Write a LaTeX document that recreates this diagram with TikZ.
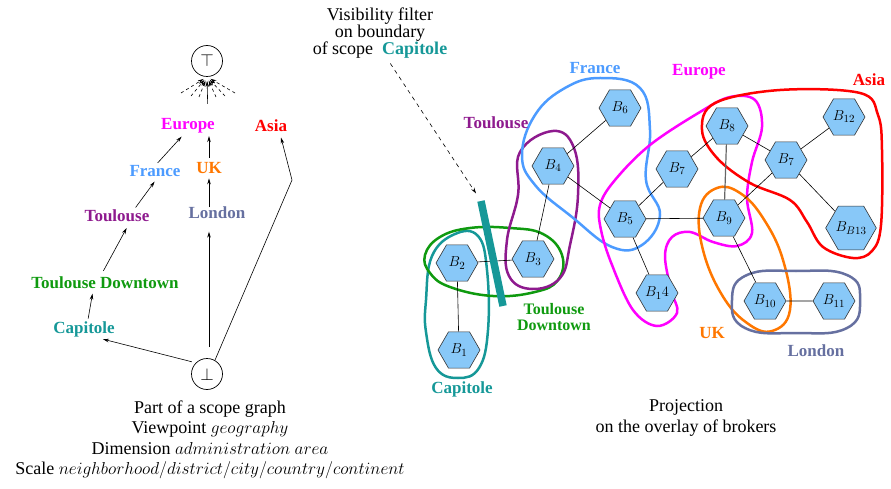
\documentclass[tikz,border=0pt]{standalone}
\usepackage{fontspec}
\setmainfont{Liberation Serif}
\usetikzlibrary{arrows.meta,shapes.geometric,backgrounds}
\definecolor{cMag}{HTML}{FF00FF}
\definecolor{cRed}{HTML}{FF0000}
\definecolor{cBlue}{HTML}{4C9BFF}
\definecolor{cOrange}{HTML}{FF7700}
\definecolor{cPurple}{HTML}{8E1A8E}
\definecolor{cSlate}{HTML}{6670A0}
\definecolor{cGreen}{HTML}{0F9A0F}
\definecolor{cTeal}{HTML}{169898}
\definecolor{cHex}{HTML}{88C8F8}
\begin{document}
\begin{tikzpicture}[x=1pt,y=-1pt,
 lbl/.style={font=\bfseries\fontsize{17}{17}\selectfont, inner sep=1.5pt, align=center},
 txt/.style={font=\fontsize{18}{20.5}\selectfont, align=center, inner sep=0pt},
 arr/.style={-{Stealth[length=6pt,width=3.5pt]}, line width=0.6pt},
 hexn/.style={regular polygon, regular polygon sides=6, minimum size=42pt, inner sep=0pt, draw=black!80, fill=cHex, line width=0.6pt, font=\fontsize{15}{15}\selectfont},
 blob/.style={line width=2.5pt},
 edgeln/.style={line width=0.6pt},
 circ/.style={circle, draw, minimum size=31pt, inner sep=0pt, line width=0.7pt, font=\fontsize{16}{16}\selectfont}]
\useasboundingbox (0,0) rectangle (891,489);

% ---------------- left: scope graph ----------------
\node[circ] (top) at (207,61) {$\top$};
\node[circ] (bot) at (207,374) {$\bot$};
\node[lbl,text=cMag] (eurL) at (188,126) {Europe};
\node[lbl,text=cRed] (asiaL) at (271,126) {Asia};
\node[lbl,text=cBlue] (frL) at (155,171) {France};
\node[lbl,text=cOrange] (ukL) at (209,168) {UK};
\node[lbl,text=cPurple] (tlL) at (117,216) {Toulouse};
\node[lbl,text=cSlate] (lonL) at (217,213) {London};
\node[lbl,text=cGreen] (tdL) at (105,283) {Toulouse Downtown};
\node[lbl,text=cTeal] (capL) at (84,329) {Capitole};

\draw[arr,shorten <=1pt,shorten >=3pt] ([xshift=4pt]capL.north) -- ([xshift=-12pt]tdL.south);
\draw[arr,shorten <=5pt,shorten >=5pt] ([xshift=-4pt]tdL.north) -- ([xshift=12pt]tlL.south);
\draw[arr,shorten <=1pt,shorten >=4pt] ([xshift=18pt]tlL.north) -- ([xshift=2pt]frL.south);
\draw[arr,shorten <=1pt,shorten >=2pt] ([xshift=2pt]frL.north) -- ([xshift=-5pt]eurL.south);
\draw[arr,shorten <=-2pt,shorten >=3pt] ([xshift=-8pt]lonL.north) -- (ukL.south);
\draw[arr,shorten <=3pt,shorten >=1pt] (ukL.north) -- ([xshift=21pt]eurL.south);
\draw[arr,shorten <=13pt,shorten >=4pt] ([xshift=20pt]eurL.north) -- (top.south);
\draw[arr,shorten <=11pt,shorten >=11pt] ([xshift=2pt]bot.north) -- ([xshift=-8pt]lonL.south);
\draw[arr,shorten <=4pt,shorten >=3pt] (bot.north west) -- ([xshift=16pt]capL.south);
\coordinate (asiaBend) at (292,180);
\draw[arr,shorten >=4pt] (bot.60) -- (asiaBend) -- ([xshift=9pt]asiaL.south);
% dashed fan of other arrows into top
\foreach \px/\py in {181/93,191/96,199/97,216/97,225/96,235/93}{
  \coordinate (fanpt) at (\px,\py);
  \draw[arr,dash pattern=on 3pt off 3pt,shorten >=4pt] (fanpt) -- (top.south);
}

\node[txt] (capt1) at (210,440) {Part of a scope graph\\Viewpoint $geography$\\Dimension $administration\ area$\\Scale $neighborhood/district/city/country/continent$};

% ---------------- visibility filter ----------------
\node[txt,font=\fontsize{18}{17}\selectfont] (vis) at (380,33) {Visibility filter\\on boundary\\of scope \ {\bfseries\color{cTeal}Capitole}};
\coordinate (barA) at (481,201);
\coordinate (barB) at (503,306);
\draw[line width=7.5pt,cTeal] (barA) -- (barB);
\draw[arr,dash pattern=on 4pt off 4pt,shorten <=6pt,shorten >=9pt] ([xshift=7pt]vis.south) -- (barA);

% ---------------- right: brokers ----------------
\node[hexn] (b1) at (459,350) {$B_1$};
\node[hexn] (b2) at (457,263) {$B_2$};
\node[hexn] (b3) at (533,259) {$B_3$};
\node[hexn] (b4) at (553,166) {$B_4$};
\node[hexn] (b5) at (625,219) {$B_5$};
\node[hexn] (b6) at (620,108) {$B_6$};
\node[hexn] (b7a) at (677,169) {$B_7$};
\node[hexn] (b14) at (657,293) {$B_14$};
\node[hexn] (b8) at (727,126) {$B_8$};
\node[hexn] (b9) at (724,218) {$B_9$};
\node[hexn] (b7b) at (786,160) {$B_7$};
\node[hexn] (b12) at (844,117) {$B_{12}$};
\node[hexn] (b13) at (851,228) {$B_{B13}$};
\node[hexn] (b10) at (765,301) {$B_{10}$};
\node[hexn] (b11) at (834,301) {$B_{11}$};

\begin{scope}[on background layer]
  % scopes
  \draw[blob,cTeal] plot[smooth cycle,tension=0.7] coordinates {(426,300) (432,256) (455,234) (478,236) (487,270) (488,330) (479,368) (458,378) (436,368) (426,332)};
  \draw[blob,cGreen] plot[smooth cycle,tension=0.7] coordinates {(425,255) (440,237) (470,228) (510,228) (543,234) (562,255) (558,280) (535,292) (493,296) (450,287) (430,273)};
  \draw[blob,cPurple] plot[smooth cycle,tension=0.7] coordinates {(553,131) (574,148) (578,195) (570,245) (560,278) (532,289) (509,276) (507,240) (518,195) (520,152)};
  \draw[blob,cBlue] plot[smooth cycle,tension=0.7] coordinates {(600,78) (640,88) (650,130) (646,180) (660,215) (642,245) (612,247) (572,217) (535,185) (522,155) (535,115) (565,88)};
  \draw[blob,cMag] plot[smooth cycle,tension=0.6] coordinates {(600,205) (615,180) (650,145) (700,112) (730,97) (755,100) (762,127) (752,162) (747,198) (752,233) (737,246) (713,242) (690,232) (672,237) (665,256) (671,290) (677,313) (657,326) (633,310) (612,265) (601,230)};
  \draw[blob,cOrange] plot[smooth cycle,tension=0.7] coordinates {(717,188) (740,193) (763,218) (783,260) (790,310) (772,331) (747,323) (722,295) (703,250) (700,208)};
  \draw[blob,cSlate] plot[smooth cycle,tension=0.8] coordinates {(732,300) (747,275) (796,271) (847,275) (860,300) (847,328) (796,333) (745,328)};
  \draw[blob,cRed] plot[smooth cycle,tension=0.6] coordinates {(702,130) (715,103) (780,90) (860,93) (878,115) (882,150) (881,225) (872,251) (853,258) (823,247) (807,222) (790,200) (750,183) (717,158)};
  % links
  \draw[edgeln] (b1) -- (b2);
  \draw[edgeln] (b2) -- (b3);
  \draw[edgeln] (b3) -- (b4);
  \draw[edgeln] (b4) -- (b6);
  \draw[edgeln] (b4) -- (b5);
  \draw[edgeln] (b5) -- (b7a);
  \draw[edgeln] (b5) -- (b9);
  \draw[edgeln] (b5) -- (b14);
  \draw[edgeln] (b7a) -- (b8);
  \draw[line width=1.2pt,black!60] (b8) -- (b9);
  \draw[edgeln] (b8) -- (b7b);
  \draw[edgeln] (b9) -- (b7b);
  \draw[edgeln] (b7b) -- (b12);
  \draw[edgeln] (b7b) -- (b13);
  \draw[edgeln] (b9) -- (b10);
  \draw[edgeln] (b10) -- (b11);
\end{scope}

\node[lbl,text=cBlue] (frR) at (595,68) {France};
\node[lbl,text=cMag] (eurR) at (699,72) {Europe};
\node[lbl,text=cRed] (asiaR) at (869,80) {Asia};
\node[lbl,text=cPurple] (tlR) at (496,123) {Toulouse};
\node[lbl,text=cGreen,font=\bfseries\fontsize{16}{16}\selectfont,inner sep=0pt] (tdR) at (554,317) {Toulouse\\Downtown};
\node[lbl,text=cTeal] (capR) at (462,389) {Capitole};
\node[lbl,text=cOrange] (ukR) at (712,333) {UK};
\node[lbl,text=cSlate] (lonR) at (816,351) {London};

\node[txt] (capt2) at (686,418) {Projection\\on the overlay of brokers};
\end{tikzpicture}
\end{document}
